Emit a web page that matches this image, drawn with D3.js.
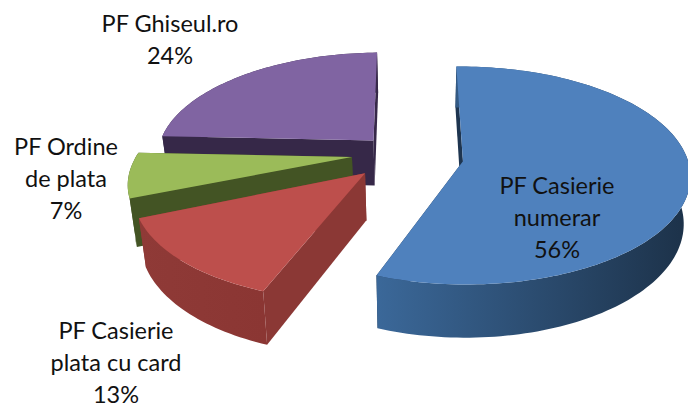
<!DOCTYPE html>
<html>
<head>
<meta charset="utf-8">
<style>
  html, body { margin: 0; padding: 0; background: #fff; }
  svg { display: block; }
</style>
<script src="https://cdn.jsdelivr.net/npm/d3@7"></script>
</head>
<body>
<div id="chart"></div>
<script>
// data
const categories = ["PF Casierie numerar", "PF Casierie plata cu card", "PF Ordine de plata", "PF Ghiseul.ro"];
const shares = [56, 13, 7, 24];

// label layout
const labelLines = [["PF Casierie", "numerar", "56%"], ["PF Casierie", "plata cu card", "13%"], ["PF Ordine", "de plata", "7%"], ["PF Ghiseul.ro", "24%"]];
const labelX = [557, 116, 66, 170];
const labelY = [194, 339, 155, 32];

// slice styles
const topColors = ["#4f81bd", "#bd4f4c", "#9bbb59", "#8064a2"];
const wallColors = ["#1e3550", "#8b3835", "#435424", "#362848"];
const rimStops = [["#3b6899", "#1c3148"], ["#8f3a37", "#8b3633"], ["#435424", "#435424"], ["#362848", "#362848"]];
const explode = [[0.41, -0.04], [-0.02, -0.15], [-0.085, 0], [0.005, 0.16]];
const sliceRadius = [1, 1, 0.965, 0.97];
const sliceShear = [0, 0, -0.2, 0];

const width = 688, height = 405;
const cx = 371, cy = 157, rx = 224, ry = 106, persp = 0.13, depth = 46;
const shear = -0.085, floorShrink = 0.975, floorX = 420;

const svg = d3.select("#chart").append("svg")
    .attr("width", width)
    .attr("height", height)
    .attr("viewBox", `0 0 ${width} ${height}`);

const defs = svg.append("defs");

// flat pie plane -> screen, things further back come out smaller
function project(wx, wy, down, extraShear) {
    const d = 1 + persp * wy;
    const y = cy - ry * wy / d;
    const x = cx + rx * wx / d + (shear + extraShear) * (y - cy);
    if (!down) return [x, y];
    // the underside is a bit narrower than the top
    return [floorX + (x - floorX) * floorShrink, y + depth / d];
}

const pie = d3.pie().sort(null).value(d => d).startAngle(-0.02).endAngle(2 * Math.PI - 0.02);
const arcs = pie(shares);
const line = d3.line();

function rimPoints(a, off, r) {
    const n = Math.max(12, Math.round((a.endAngle - a.startAngle) * 40));
    return d3.range(n + 1).map(i => {
        const t = a.startAngle + (a.endAngle - a.startAngle) * i / n;
        return [off[0] + r * Math.sin(t), off[1] + r * Math.cos(t)];
    });
}

// back slices first so the front ones cover their walls
const drawOrder = [3, 2, 1, 0];

drawOrder.forEach(i => {
    const a = arcs[i];
    const off = explode[i];
    const rim = rimPoints(a, off, sliceRadius[i]);
    const g = svg.append("g").attr("class", "slice");

    const top = rim.map(p => project(p[0], p[1], false, sliceShear[i]));
    const bottom = rim.map(p => project(p[0], p[1], true, sliceShear[i]));
    const apexTop = project(off[0], off[1], false, sliceShear[i]);
    const apexBottom = project(off[0], off[1], true, sliceShear[i]);

    // rim gradient
    const xs = top.map(p => p[0]);
    const gradId = "rim" + i;
    const grad = defs.append("linearGradient")
        .attr("id", gradId)
        .attr("gradientUnits", "userSpaceOnUse")
        .attr("x1", d3.min(xs)).attr("x2", d3.max(xs))
        .attr("y1", 0).attr("y2", 0);
    grad.append("stop").attr("offset", "0%").attr("stop-color", rimStops[i][0]);
    grad.append("stop").attr("offset", "100%").attr("stop-color", rimStops[i][1]);

    // end wall, start wall, outer wall, then the top face
    g.append("path")
        .attr("d", line([apexTop, top[top.length - 1], bottom[bottom.length - 1], apexBottom]) + "Z")
        .attr("fill", wallColors[i]);
    g.append("path")
        .attr("d", line([apexTop, top[0], bottom[0], apexBottom]) + "Z")
        .attr("fill", wallColors[i]);
    g.append("path")
        .attr("d", line(top.concat(bottom.slice().reverse())) + "Z")
        .attr("fill", `url(#${gradId})`);
    g.append("path")
        .attr("d", line([apexTop].concat(top)) + "Z")
        .attr("fill", topColors[i]);
});

// labels
categories.forEach((c, i) => {
    const t = svg.append("text")
        .attr("text-anchor", "middle")
        .style("font-family", "Lato, 'Open Sans', sans-serif")
        .style("font-size", "23.5px")
        .style("fill", "#111");
    labelLines[i].forEach((s, j) => {
        t.append("tspan")
            .attr("x", labelX[i])
            .attr("y", labelY[i] + j * 32)
            .text(s);
    });
});
</script>
</body>
</html>
